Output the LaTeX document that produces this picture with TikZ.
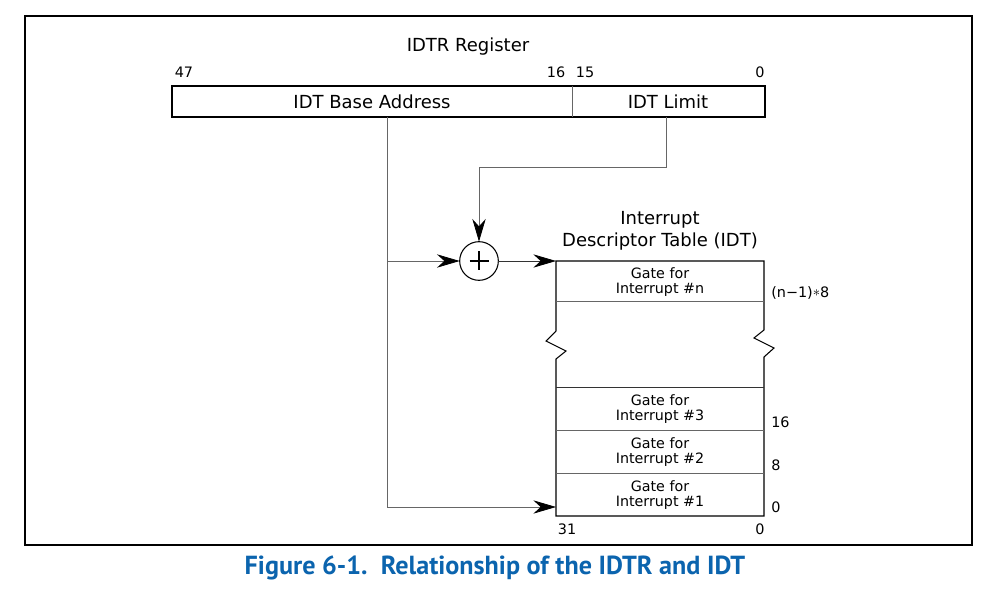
\documentclass[tikz,border=0pt]{standalone}
\usepackage{fontspec}
\setmainfont{DejaVu Sans}
\newfontfamily\capfont{PT Sans}
\usetikzlibrary{arrows.meta,calc}
\definecolor{capblue}{HTML}{0B64AE}
\tikzset{
  frame/.style={draw=black,line width=1.2pt},
  regbox/.style={minimum height=23.25pt,inner sep=0pt,outer sep=0pt,anchor=north west},
  conn/.style={draw=black!60,line width=0.6pt},
  arr/.style={-{Stealth[length=17pt,width=10pt,inset=5.5pt,black]}},
  rowtxt/.style={inner sep=0pt,align=center,font=\fontsize{10.7}{11.5}\selectfont},
  lbl/.style={inner sep=0pt,font=\fontsize{10.8}{13}\selectfont},
  bigtxt/.style={inner sep=0pt,align=center,font=\fontsize{13.5}{16.5}\selectfont},
  rowline/.style={draw=black!60,line width=0.6pt},
  idtline/.style={draw=black,line width=0.8pt},
}
\begin{document}
\begin{tikzpicture}[x=0.75pt,y=-0.75pt]
\useasboundingbox (0,0) rectangle (992,595);
\draw[frame] (25,16) rectangle (972,545);
% register
\node[bigtxt] (regtitle) at (468,47) {IDTR Register};
\node[lbl] (b47) at (184,72) {47};
\node[lbl] (b16) at (556,72) {16};
\node[lbl] (b15) at (585,72) {15};
\node[lbl] (b0) at (760,72) {0};
\node[regbox,minimum width=300pt] (base) at (172,86) {};
\node[regbox,minimum width=144.75pt] (limit) at (572,86) {};
\draw[idtline] (base.north west) rectangle (limit.south east);
\draw[rowline] (limit.north west) -- (limit.south west);
\node[bigtxt] (basetxt) at (372,102) {IDT Base Address};
\node[bigtxt] (limtxt) at (668,102) {IDT Limit};
% plus
\node[draw=black,line width=0.8pt,circle,minimum size=29pt,inner sep=0pt,outer sep=0pt] (plus) at (479,261) {};
\draw[line width=1.5pt] ($(plus.center)+(-9.5,0)$) -- ($(plus.center)+(9.5,0)$)
  ($(plus.center)+(0,-9.5)$) -- ($(plus.center)+(0,9.5)$);
% IDT title
\node[bigtxt] (idttitle) at (660,231) {Interrupt\\Descriptor Table (IDT)};
% rows
\node[rowtxt] (rown) at (660,282) {Gate for\\Interrupt \#n};
\node[rowtxt] (row3) at (660,409) {Gate for\\Interrupt \#3};
\node[rowtxt] (row2) at (660,452) {Gate for\\Interrupt \#2};
\node[rowtxt] (row1) at (660,495) {Gate for\\Interrupt \#1};
\coordinate (tl) at (556,261);
\coordinate (tr) at (764,261);
\coordinate (bl) at (556,516);
\coordinate (br) at (764,516);
\draw[idtline] (556,331) -- (tl) -- (tr) -- (764,330) -- (754,338) -- (774,348) -- (764,357) -- (br) -- (bl) -- (556,359) -- (566,351) -- (546,341) -- (556,331);
\draw[rowline] (556,301) -- (764,301);
\draw[rowline,draw=black!80] (556,387) -- (764,387);
\draw[rowline] (556,430) -- (764,430);
\draw[rowline] (556,473) -- (764,473);
% offsets
\node[lbl,anchor=west] (offn) at (771,293) {(n\textminus1)\raisebox{0.1ex}{\(\ast\)}8};
\node[lbl,anchor=west] (off16) at (771,422) {16};
\node[lbl,anchor=west] (off8) at (771,465) {8};
\node[lbl,anchor=west] (off0) at (771,507) {0};
\node[lbl] (b31) at (567,529) {31};
\node[lbl] (b00) at (760,529) {0};
% connectors
\coordinate (bdrop) at (387,117);
\coordinate (bmid) at (387,261);
\coordinate (ldrop) at (666,117);
\coordinate (lturn) at (666,167);
\draw[conn] (bdrop) -- (bmid);
\draw[conn,arr] (bdrop) |- (556,507);
\draw[conn,arr] (bmid) -- (plus.west);
\draw[conn,arr] (ldrop) -- (lturn) -| (plus.north);
\draw[conn,draw=black!80,arr] (plus.east) -- (tl);
% caption
\node[inner sep=0pt,text=capblue,font=\capfont\bfseries\fontsize{19.6}{22}\selectfont] (caption) at (495,568) {Figure 6-1.\ \ Relationship of the IDTR and IDT};
\end{tikzpicture}
\end{document}
